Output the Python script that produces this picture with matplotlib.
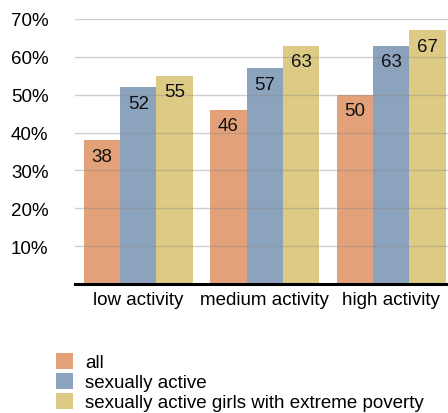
import matplotlib
matplotlib.use("Agg")
import matplotlib.pyplot as plt
import numpy as np
from matplotlib.patches import Patch

plt.rcParams['font.family'] = ['Liberation Sans', 'DejaVu Sans']

categories = ["low activity", "medium activity", "high activity"]
series_names = ["all", "sexually active", "sexually active girls with extreme poverty"]
all_vals = [38, 46, 50]
active_vals = [52, 57, 63]
poverty_vals = [55, 63, 67]
yticks = [10, 20, 30, 40, 50, 60, 70]
colors = ["#E3A17A", "#8CA3BD", "#DDCB85"]

FS = 13.5
fig = plt.figure(figsize=(4.48, 4.14), dpi=100)
ax = fig.add_axes([75/448, 1-285/414, 1-75/448, (285-20)/414])

x = np.arange(len(categories))
w = 0.287
series = [all_vals, active_vals, poverty_vals]
for i, (vals, c) in enumerate(zip(series, colors)):
    pos = x + (i - 1) * w
    bars = ax.bar(pos, vals, width=w, color=c, zorder=1)
    for b, v in zip(bars, vals):
        ax.annotate(str(v), (b.get_x() + b.get_width()/2, v), xytext=(0, -5.5),
                    textcoords='offset points', ha='center', va='top',
                    fontsize=FS, color='#111111', zorder=3)

ax.set_xlim(-0.5, 2.45)
ax.set_ylim(0, 70)
ax.set_yticks(yticks)
ax.set_yticklabels([f"{t}%" for t in yticks], fontsize=FS)
ax.yaxis.grid(True, color='#888888', alpha=0.4, linewidth=1, zorder=2)
ax.set_axisbelow(False)
ax.tick_params(axis='y', length=0, pad=19)
ax.set_xticks(x)
ax.set_xticklabels(categories, fontsize=FS)
ax.tick_params(axis='x', length=0, pad=5)
for s in ['left', 'right', 'top']:
    ax.spines[s].set_visible(False)
ax.spines['bottom'].set_linewidth(2.2)
ax.spines['bottom'].set_color('black')
ax.spines['bottom'].set_zorder(4)

handles = [Patch(facecolor=c, label=n) for c, n in zip(colors, series_names)]
fig.legend(handles=handles, loc='upper left', bbox_to_anchor=(56/448, 1-354/414),
           frameon=False, fontsize=FS, handlelength=0.9, handleheight=0.9,
           labelspacing=0.1, handletextpad=0.65, borderaxespad=0, borderpad=0)

fig.savefig("out.png", dpi=100)
